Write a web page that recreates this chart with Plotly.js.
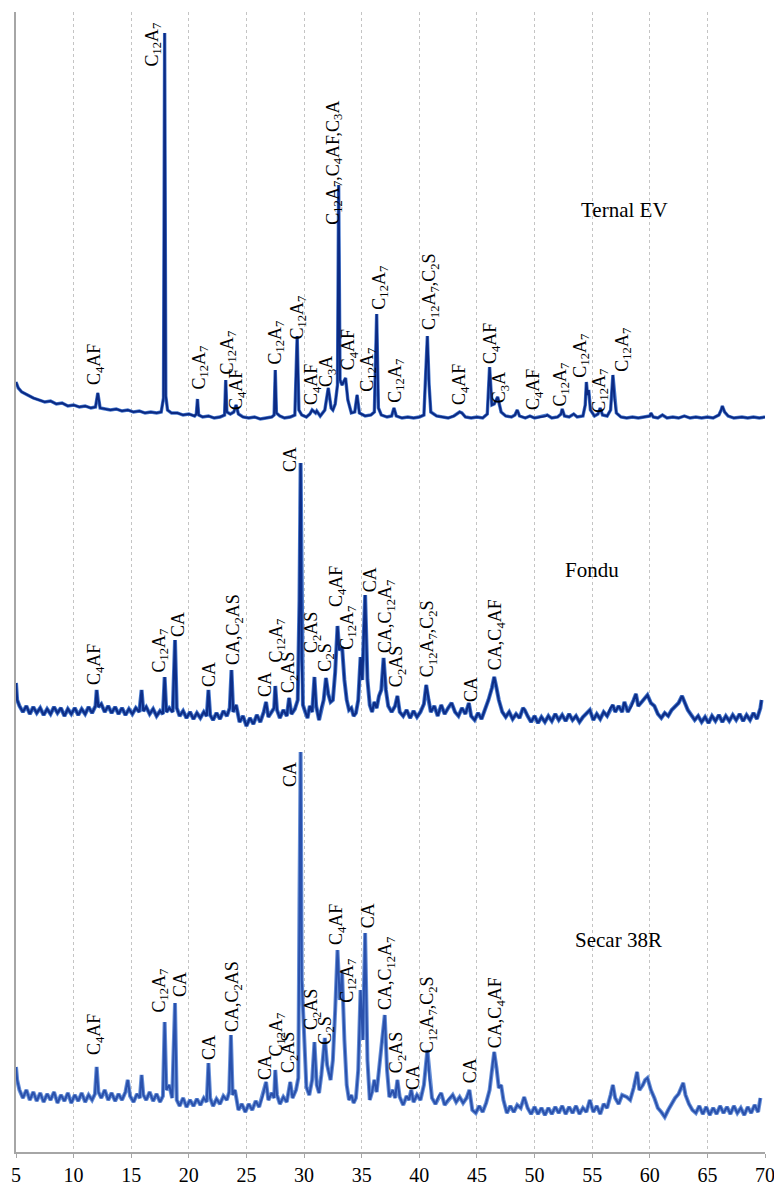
<!DOCTYPE html>
<html><head><meta charset="utf-8">
<script src="https://cdn.plot.ly/plotly-3.0.1.min.js"></script>
<style>html,body{margin:0;padding:0;background:#fff}#chart{width:774px;height:1185px}</style>
</head><body><div id="chart"></div>
<script>
// ---------- DATA ----------
const sampleNames = ['Ternal EV', 'Fondu', 'Secar 38R'];
const xTicks = [5,10,15,20,25,30,35,40,45,50,55,60,65,70];

const ternalTheta = [5.0,5.2,5.5,6.0,6.5,7.0,7.5,8.0,8.5,9.0,9.5,10.0,10.5,11.0,11.5,11.9,12.1,12.3,12.7,13.2,13.7,14.2,14.7,15.2,15.7,16.2,16.7,17.2,17.6,17.8,17.9,18.0,18.15,18.5,19.0,19.5,20.0,20.5,20.65,20.75,20.85,21.2,21.7,22.2,22.7,23.1,23.2,23.3,23.6,23.9,24.1,24.3,24.7,25.2,25.7,26.2,26.7,27.2,27.4,27.5,27.6,27.9,28.3,28.8,29.2,29.4,29.55,29.8,30.2,30.5,30.7,31.0,31.1,31.4,31.8,32.1,32.35,32.5,32.7,32.9,33.0,33.12,33.3,33.6,33.8,34.1,34.4,34.6,34.8,35.3,35.8,36.1,36.3,36.45,36.7,37.2,37.6,37.8,38.0,38.5,39.0,39.5,40.0,40.4,40.55,40.7,40.85,41.0,41.5,42.0,42.5,43.0,43.3,43.5,43.7,44.0,44.5,45.0,45.5,45.9,46.1,46.3,46.5,46.8,47.1,47.5,48.0,48.3,48.5,48.7,49.2,49.6,50.0,50.5,51.0,51.1,51.5,52.0,52.3,52.4,52.6,53.0,53.4,53.7,54.2,54.4,54.5,54.6,54.7,54.85,55.2,55.5,55.7,55.9,56.3,56.6,56.8,56.95,57.1,57.5,58.0,58.5,59.0,59.5,60.0,60.1,60.3,60.7,61.1,61.5,62.0,62.5,63.0,63.5,64.0,64.5,65.0,65.5,66.0,66.2,66.3,66.5,66.8,67.3,68.0,68.5,69.0,69.5,70.0];
const ternalCounts = [45,39,35,32,29,27,25,26,23,24,21,22,20,21,19,20,34,19,18,17,18,16,17,15,16,14,15,14,15,29,394,31,17,14,14,12,13,11,13,28,12,10,11,9,10,12,47,15,13,15,22,13,10,9,10,8,9,10,12,57,14,11,9,10,12,91,17,12,10,13,17,14,16,11,17,39,19,17,23,42,242,47,42,49,27,14,15,32,14,11,12,15,113,19,12,10,11,19,11,9,10,9,10,12,52,91,42,15,11,10,9,11,13,15,14,10,9,10,9,13,60,22,23,30,15,11,10,12,17,11,9,11,9,10,11,12,9,10,13,18,11,10,13,10,11,22,45,32,37,17,11,13,19,12,11,17,52,27,14,10,9,10,9,10,11,14,10,9,12,9,10,9,11,9,10,9,10,9,12,17,21,15,11,9,10,9,10,9,10];

const fonduTheta = [5.0,5.1,5.3,5.6,5.9,6.2,6.5,6.8,7.1,7.4,7.7,8.0,8.3,8.6,8.9,9.2,9.5,9.8,10.1,10.4,10.7,11.0,11.3,11.6,11.9,12.0,12.15,12.4,12.7,13.0,13.3,13.6,13.9,14.2,14.5,14.8,15.1,15.4,15.7,15.9,16.05,16.3,16.6,16.9,17.2,17.5,17.75,17.9,18.05,18.3,18.6,18.8,18.95,19.2,19.5,19.8,20.1,20.4,20.7,21.0,21.3,21.55,21.7,21.85,22.1,22.4,22.7,23.0,23.3,23.55,23.7,23.85,24.1,24.4,24.7,25.0,25.3,25.6,25.9,26.2,26.5,26.7,26.9,27.2,27.4,27.5,27.65,27.9,28.2,28.5,28.7,28.9,29.2,29.45,29.6,29.7,29.8,29.9,30.1,30.3,30.5,30.7,30.9,31.05,31.3,31.5,31.7,31.9,32.1,32.3,32.5,32.7,32.9,33.05,33.3,33.5,33.7,33.9,34.1,34.3,34.5,34.7,34.9,35.05,35.3,35.5,35.7,35.9,36.1,36.3,36.5,36.7,36.9,37.1,37.3,37.6,37.9,38.1,38.3,38.6,38.9,39.2,39.5,39.8,40.1,40.4,40.6,40.8,41.0,41.3,41.6,41.9,42.2,42.5,42.8,43.1,43.4,43.7,44.0,44.3,44.5,44.8,45.1,45.4,45.7,46.0,46.3,46.5,46.7,46.9,47.2,47.5,47.8,48.1,48.4,48.7,49.0,49.15,49.4,49.7,50.0,50.3,50.6,50.9,51.2,51.5,51.8,52.1,52.4,52.7,53.0,53.3,53.6,53.9,54.2,54.5,54.8,55.1,55.4,55.7,56.0,56.3,56.6,56.8,57.0,57.3,57.6,57.8,58.1,58.4,58.6,58.8,59.0,59.3,59.6,59.8,60.1,60.4,60.7,61.0,61.3,61.6,61.9,62.2,62.5,62.8,63.0,63.3,63.6,63.9,64.2,64.5,64.8,65.1,65.4,65.7,66.0,66.3,66.6,66.9,67.2,67.5,67.8,68.1,68.4,68.7,69.0,69.3,69.6,69.7];
const fonduCounts = [44,27,21,15,21,13,20,14,19,12,18,13,20,14,19,11,18,13,19,12,18,13,20,14,21,37,20,23,15,21,14,20,13,19,12,18,13,19,15,37,16,20,13,18,11,16,13,50,15,19,15,87,19,11,16,9,15,8,14,9,15,11,37,12,7,14,8,16,11,19,57,15,22,5,11,1,9,3,12,5,15,25,10,15,19,41,17,9,17,11,29,13,18,27,127,264,67,22,15,9,21,15,50,21,7,19,27,49,33,25,27,55,101,77,80,47,27,17,19,11,14,27,70,47,132,47,22,15,25,19,31,37,69,37,21,15,21,31,15,11,17,9,16,10,15,23,42,27,15,21,11,22,13,19,24,15,11,19,13,24,11,7,14,8,17,27,39,50,39,27,15,10,15,8,13,9,19,17,11,5,11,4,10,5,11,6,13,7,12,6,13,7,11,5,10,13,17,7,13,8,15,11,19,22,15,21,15,25,15,21,27,33,21,25,29,32,24,21,13,9,14,11,17,21,24,31,25,17,12,7,11,5,10,4,11,6,12,5,11,6,12,7,13,6,12,7,14,8,19,27];

const secarTheta = [5.0,5.1,5.3,5.6,5.9,6.2,6.5,6.8,7.1,7.4,7.7,8.0,8.3,8.6,8.9,9.2,9.5,9.8,10.1,10.4,10.7,11.0,11.3,11.6,11.85,12.0,12.15,12.4,12.7,13.0,13.3,13.6,13.9,14.2,14.5,14.7,14.9,15.2,15.5,15.75,15.9,16.05,16.3,16.6,16.9,17.2,17.5,17.75,17.9,18.05,18.3,18.55,18.8,18.95,19.2,19.5,19.8,20.1,20.4,20.7,21.0,21.3,21.55,21.7,21.85,22.1,22.4,22.7,23.0,23.3,23.5,23.65,23.8,24.0,24.3,24.6,24.9,25.2,25.5,25.8,26.1,26.4,26.7,26.9,27.2,27.4,27.5,27.65,27.9,28.2,28.5,28.8,29.0,29.3,29.5,29.6,29.7,29.8,30.0,30.2,30.45,30.7,30.9,31.1,31.3,31.5,31.8,32.0,32.3,32.5,32.7,32.9,33.1,33.3,33.5,33.7,33.9,34.1,34.3,34.5,34.7,34.9,35.1,35.3,35.5,35.7,35.9,36.1,36.3,36.5,36.7,37.0,37.2,37.4,37.7,37.9,38.1,38.3,38.6,38.9,39.1,39.3,39.5,39.8,40.1,40.4,40.7,40.9,41.1,41.4,41.7,41.9,42.2,42.5,42.9,43.2,43.5,43.8,44.1,44.35,44.6,44.9,45.2,45.5,45.8,46.1,46.3,46.5,46.7,46.9,47.1,47.3,47.6,47.9,48.2,48.5,48.8,49.1,49.4,49.7,50.0,50.3,50.6,50.9,51.2,51.5,51.8,52.1,52.4,52.7,53.0,53.3,53.6,53.9,54.2,54.5,54.8,55.1,55.4,55.7,56.0,56.3,56.6,56.8,57.0,57.3,57.6,58.0,58.3,58.6,58.9,59.1,59.4,59.6,59.8,60.1,60.4,60.7,61.0,61.3,61.6,61.9,62.2,62.5,62.9,63.1,63.4,63.7,64.0,64.3,64.6,64.9,65.2,65.5,65.8,66.1,66.4,66.7,67.0,67.3,67.6,67.9,68.2,68.5,68.8,69.1,69.4,69.6];
const secarCounts = [55,42,32,24,32,22,30,21,29,20,28,22,30,19,27,21,29,19,27,21,29,20,27,22,28,55,30,24,32,22,29,21,28,22,30,42,26,20,28,24,47,27,22,30,21,28,20,26,100,32,37,24,119,22,16,24,15,22,16,23,17,24,20,59,24,16,23,18,26,22,30,87,27,32,12,18,10,18,12,21,15,26,40,22,29,24,52,27,18,25,20,40,24,32,44,222,370,142,84,35,27,42,80,37,29,47,84,57,42,62,112,172,122,149,82,37,22,27,19,24,52,132,82,189,62,22,30,42,30,52,67,107,52,25,32,24,42,25,17,26,22,32,20,27,22,37,72,42,24,18,26,29,17,22,27,20,25,19,24,32,12,9,16,10,19,32,52,70,54,34,37,22,9,16,10,17,14,25,14,8,15,8,14,7,14,8,15,9,16,8,15,9,16,8,14,10,22,10,16,8,18,14,27,37,24,18,27,25,22,34,50,32,37,42,44,32,24,14,10,5,12,18,24,28,39,27,18,12,9,16,8,15,7,14,8,16,9,15,8,16,9,14,7,15,9,17,10,24];

const ternalLabels = ['C<sub>4</sub>AF','C<sub>12</sub>A<sub>7</sub>','C<sub>12</sub>A<sub>7</sub>','C<sub>12</sub>A<sub>7</sub>','C<sub>4</sub>AF','C<sub>12</sub>A<sub>7</sub>','C<sub>12</sub>A<sub>7</sub>','C<sub>4</sub>AF','C<sub>3</sub>A','C<sub>12</sub>A<sub>7</sub>,C<sub>4</sub>AF,C<sub>3</sub>A','C<sub>4</sub>AF','C<sub>12</sub>A<sub>7</sub>','C<sub>12</sub>A<sub>7</sub>','C<sub>12</sub>A<sub>7</sub>','C<sub>12</sub>A<sub>7</sub>,C<sub>2</sub>S','C<sub>4</sub>AF','C<sub>4</sub>AF','C<sub>3</sub>A','C<sub>4</sub>AF','C<sub>12</sub>A<sub>7</sub>','C<sub>12</sub>A<sub>7</sub>','C<sub>12</sub>A<sub>7</sub>','C<sub>12</sub>A<sub>7</sub>'];
const ternalLabelTheta = [11.9,16.85,20.93,23.36,24.23,27.53,29.44,30.74,32.04,32.57,33.96,35.52,36.56,37.95,40.98,43.58,46.27,47.06,50.0,52.26,54.0,55.65,57.65];

const fonduLabels = ['C<sub>4</sub>AF','C<sub>12</sub>A<sub>7</sub>','CA','CA','CA,C<sub>2</sub>AS','CA','C<sub>12</sub>A<sub>7</sub>','C<sub>2</sub>AS','CA','C<sub>2</sub>AS','C<sub>2</sub>S','C<sub>4</sub>AF','C<sub>12</sub>A<sub>7</sub>','CA','CA,C<sub>12</sub>A<sub>7</sub>','C<sub>2</sub>AS','C<sub>12</sub>A<sub>7</sub>,C<sub>2</sub>S','CA','CA,C<sub>4</sub>AF'];
const fonduLabelTheta = [11.9,17.46,19.02,21.71,23.97,26.57,27.61,28.74,28.74,30.74,31.87,32.91,33.78,35.69,37.16,38.12,40.81,44.45,46.71];

const secarLabels = ['C<sub>4</sub>AF','C<sub>12</sub>A<sub>7</sub>','CA','CA','CA,C<sub>2</sub>AS','CA','C<sub>12</sub>A<sub>7</sub>','C<sub>2</sub>AS','CA','C<sub>2</sub>AS','C<sub>2</sub>S','C<sub>4</sub>AF','C<sub>12</sub>A<sub>7</sub>','CA','CA,C<sub>12</sub>A<sub>7</sub>','C<sub>2</sub>AS','CA','C<sub>12</sub>A<sub>7</sub>,C<sub>2</sub>S','CA','CA,C<sub>4</sub>AF'];
const secarLabelTheta = [11.9,17.46,19.19,21.71,23.88,26.57,27.61,28.74,28.74,30.74,31.87,32.91,33.78,35.52,37.16,38.12,39.42,40.81,44.37,46.71];

// ---------- PLACEMENT (layout, not data) ----------
const offsets = [725, 425, 30];
const ternalLabelPos = [767,1085,762,777,742,787,812,747,765,927,782,760,842,749,822,747,788,749,742,745,774,739,780];
const fonduLabelPos = [467,479,515,465,487,455,489,459,680,499,480,545,502,560,499,465,475,450,482];
const secarLabelPos = [97,139,155,92,120,72,95,79,365,122,107,207,149,224,142,79,62,99,69,104];
const namePos = [[57.8, 942], [54.96, 582], [57.3, 212]];

// ---------- BUILD ----------
const series = [
  {x: ternalTheta, y: ternalCounts, under: '#4677cc', over: '#0b2a84', wu: 3.4, wo: 2.0},
  {x: fonduTheta, y: fonduCounts, under: '#4677cc', over: '#0d2e88', wu: 4.0, wo: 2.2},
  {x: secarTheta, y: secarCounts, under: '#6790d8', over: '#2a51ac', wu: 4.0, wo: 2.0}
];
const traces = [];
series.forEach((s, i) => {
  const yy = s.y.map(v => v + offsets[i]);
  traces.push({type: 'scatter', mode: 'lines', x: s.x, y: yy, line: {color: s.under, width: s.wu}, hoverinfo: 'skip', showlegend: false});
  traces.push({type: 'scatter', mode: 'lines', x: s.x, y: yy, line: {color: s.over, width: s.wo}, hoverinfo: 'skip', showlegend: false});
});

const annotations = [];
function addLabels(texts, thetas, pos) {
  texts.forEach((t, k) => annotations.push({
    x: thetas[k], y: pos[k], xref: 'x', yref: 'y', text: t, textangle: -90,
    showarrow: false, xanchor: 'center', yanchor: 'bottom', borderpad: 0, borderwidth: 0,
    font: {family: 'Liberation Serif, Times New Roman, serif', size: 18, color: '#000'}
  }));
}
addLabels(ternalLabels, ternalLabelTheta, ternalLabelPos);
addLabels(fonduLabels, fonduLabelTheta, fonduLabelPos);
addLabels(secarLabels, secarLabelTheta, secarLabelPos);
sampleNames.forEach((n, i) => annotations.push({
  x: namePos[i][0], y: namePos[i][1], xref: 'x', yref: 'y', text: n, showarrow: false,
  xanchor: 'center', yanchor: 'middle',
  font: {family: 'Liberation Serif, Times New Roman, serif', size: 21, color: '#000'}
}));

const layout = {
  width: 774, height: 1185,
  margin: {l: 16, r: 9, t: 12, b: 33},
  paper_bgcolor: '#fff', plot_bgcolor: '#fff',
  showlegend: false,
  xaxis: {
    range: [5, 70], tickvals: xTicks, ticktext: xTicks.map(String),
    showgrid: true, gridcolor: '#c4c4c4', griddash: 'dot', gridwidth: 1,
    zeroline: false, showline: true, linecolor: '#a6a6a6', linewidth: 1.5,
    ticks: 'outside', ticklen: 4, tickcolor: '#a6a6a6', tickwidth: 1,
    ticklabeloverflow: 'allow',
    tickfont: {family: 'Liberation Serif, Times New Roman, serif', size: 20, color: '#000'}
  },
  yaxis: {
    range: [0, 1140], showgrid: false, zeroline: false, showticklabels: false,
    showline: true, linecolor: '#a6a6a6', linewidth: 2, ticks: ''
  },
  annotations: annotations
};
Plotly.newPlot('chart', traces, layout, {staticPlot: true, displayModeBar: false});
</script></body></html>
